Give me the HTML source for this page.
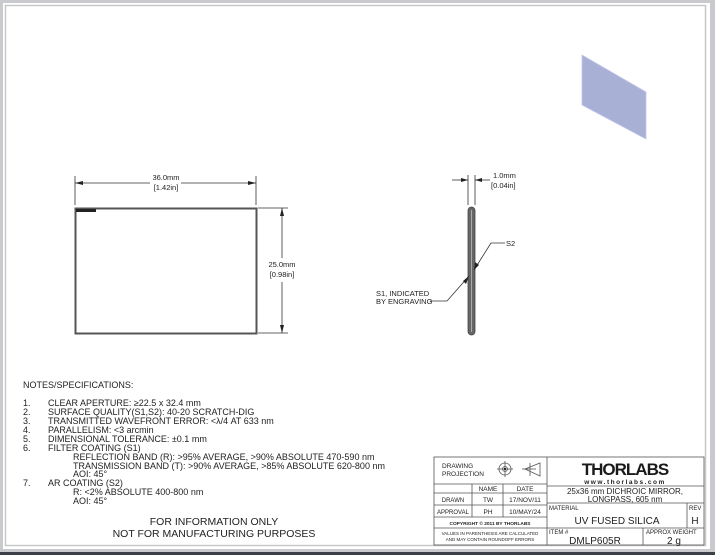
<!DOCTYPE html>
<html><head><meta charset="utf-8"><style>
html,body{margin:0;padding:0;width:715px;height:555px;overflow:hidden;background:#c9cace;}
svg{position:absolute;left:0;top:0}
text{font-family:"Liberation Sans",sans-serif;fill:#222}
</style></head><body>
<svg width="715" height="555" viewBox="0 0 715 555">
<rect x="0" y="0" width="715" height="555" fill="#c9cace"/>
<rect x="0" y="552" width="715" height="3" fill="#3a3f48"/>
<rect x="3" y="3" width="707" height="546" fill="#fff"/>
<rect x="5.5" y="5.5" width="700" height="540" fill="none" stroke="#c8c8c8" stroke-width="1.5"/>

<!-- 3D view -->
<polygon points="582,55 646,92 646,139 582,105" fill="#a9b0d6" stroke="#c4c8e8" stroke-width="0.8"/>

<!-- Front view -->
<rect x="75.5" y="208.5" width="181" height="125" fill="none" stroke="#555" stroke-width="2"/>
<rect x="76" y="209" width="20" height="3" fill="#222"/>
<g stroke="#333" stroke-width="0.8" fill="none">
<line x1="75" y1="176" x2="75" y2="205"/><line x1="256" y1="176" x2="256" y2="205"/>
<line x1="75" y1="183" x2="150" y2="183"/><line x1="181" y1="183" x2="256" y2="183"/>
<line x1="258" y1="208" x2="288" y2="208"/><line x1="258" y1="333" x2="288" y2="333"/>
<line x1="282" y1="208" x2="282" y2="258"/><line x1="282" y1="282" x2="282" y2="333"/>
</g>
<g fill="#222">
<polygon points="75,183 83,181 83,185"/><polygon points="256,183 248,181 248,185"/>
<polygon points="282,208 280,216 284,216"/><polygon points="282,333 280,325 284,325"/>
</g>
<text x="166" y="180" font-size="7.5" text-anchor="middle">36.0mm</text>
<text x="166" y="190" font-size="7.5" text-anchor="middle">[1.42in]</text>
<text x="282" y="267" font-size="7.5" text-anchor="middle">25.0mm</text>
<text x="282" y="277" font-size="7.5" text-anchor="middle">[0.98in]</text>

<!-- Side view -->
<rect x="468" y="207" width="7" height="128" rx="3.5" fill="#666" stroke="#444" stroke-width="0.8"/>
<line x1="471.5" y1="210" x2="471.5" y2="332" stroke="#aaa" stroke-width="1"/>
<g stroke="#333" stroke-width="0.8" fill="none">
<line x1="468" y1="175" x2="468" y2="205"/><line x1="475" y1="175" x2="475" y2="205"/>
<line x1="452" y1="180" x2="468" y2="180"/><line x1="475" y1="180" x2="490" y2="180"/>
<polyline points="505,243 491,243 474,270"/>
<polyline points="430,301 447,301 469,276"/>
</g>
<g fill="#222">
<polygon points="468,180 461,178 461,182"/><polygon points="475,180 482,178 482,182"/>
<polygon points="474,270 475,262 479,265"/><polygon points="469,276 463,281 466,284"/>
</g>
<text x="493" y="178" font-size="7.5">1.0mm</text>
<text x="491" y="188" font-size="7.5">[0.04in]</text>
<text x="506" y="246" font-size="7.5">S2</text>
<text x="376" y="296" font-size="7.5">S1, INDICATED</text>
<text x="376" y="304" font-size="7.5">BY ENGRAVING</text>

<!-- Notes -->
<g font-size="9">
<text x="23" y="388">NOTES/SPECIFICATIONS:</text>
<text x="23" y="406">1.</text><text x="48" y="406">CLEAR APERTURE: ≥22.5 x 32.4 mm</text>
<text x="23" y="415">2.</text><text x="48" y="415">SURFACE QUALITY(S1,S2): 40-20 SCRATCH-DIG</text>
<text x="23" y="424">3.</text><text x="48" y="424">TRANSMITTED WAVEFRONT ERROR: &lt;λ/4 AT 633 nm</text>
<text x="23" y="433">4.</text><text x="48" y="433">PARALLELISM: &lt;3 arcmin</text>
<text x="23" y="442">5.</text><text x="48" y="442">DIMENSIONAL TOLERANCE: ±0.1 mm</text>
<text x="23" y="451">6.</text><text x="48" y="451">FILTER COATING (S1)</text>
<text x="73" y="460">REFLECTION BAND (R): &gt;95% AVERAGE, &gt;90% ABSOLUTE 470-590 nm</text>
<text x="73" y="469">TRANSMISSION BAND (T): &gt;90% AVERAGE, &gt;85% ABSOLUTE 620-800 nm</text>
<text x="73" y="477">AOI: 45°</text>
<text x="23" y="486">7.</text><text x="48" y="486">AR COATING (S2)</text>
<text x="73" y="495">R: &lt;2% ABSOLUTE 400-800 nm</text>
<text x="73" y="504">AOI: 45°</text>
</g>
<text x="214" y="525" font-size="10.5" text-anchor="middle">FOR INFORMATION ONLY</text>
<text x="214" y="537" font-size="10.5" text-anchor="middle">NOT FOR MANUFACTURING PURPOSES</text>

<!-- Title block -->
<g stroke="#555" stroke-width="0.8" fill="none">
<rect x="434" y="457" width="270" height="88"/>
<line x1="547" y1="457" x2="547" y2="545"/>
<line x1="434" y1="484" x2="547" y2="484"/>
<line x1="434" y1="493" x2="547" y2="493"/>
<line x1="434" y1="505" x2="547" y2="505"/>
<line x1="434" y1="517" x2="547" y2="517"/>
<line x1="434" y1="528" x2="704" y2="528"/>
<line x1="472" y1="484" x2="472" y2="517"/>
<line x1="503" y1="484" x2="503" y2="517"/>
<line x1="547" y1="486" x2="704" y2="486"/>
<line x1="547" y1="503" x2="704" y2="503"/>
<line x1="687" y1="503" x2="687" y2="528"/>
<line x1="643" y1="528" x2="643" y2="545"/>
<circle cx="505" cy="469" r="6"/><circle cx="505" cy="469" r="2.5"/>
<line x1="497" y1="469" x2="513" y2="469"/><line x1="505" y1="461" x2="505" y2="477"/>
<polygon points="525,469 540,463 540,476"/>
<line x1="522" y1="469" x2="536" y2="469"/><line x1="530" y1="463" x2="530" y2="476"/>
</g>
<circle cx="505" cy="469" r="1.2" fill="#222"/>
<text x="442" y="468" font-size="6.5">DRAWING</text>
<text x="442" y="476" font-size="6.5">PROJECTION</text>
<text x="488" y="491" font-size="6.5" text-anchor="middle">NAME</text>
<text x="525" y="491" font-size="6.5" text-anchor="middle">DATE</text>
<text x="453" y="502" font-size="6" text-anchor="middle">DRAWN</text>
<text x="488" y="502" font-size="6.5" text-anchor="middle">TW</text>
<text x="525" y="502" font-size="6.5" text-anchor="middle">17/NOV/11</text>
<text x="453" y="514" font-size="6" text-anchor="middle">APPROVAL</text>
<text x="488" y="514" font-size="6.5" text-anchor="middle">PH</text>
<text x="525" y="514" font-size="6.5" text-anchor="middle">10/MAY/24</text>
<text x="490" y="525" font-size="4.8" font-weight="bold" text-anchor="middle">COPYRIGHT © 2011 BY THORLABS</text>
<text x="490" y="535" font-size="4.5" text-anchor="middle">VALUES IN PARENTHESIS ARE CALCULATED</text>
<text x="490" y="541" font-size="4.5" text-anchor="middle">AND MAY CONTAIN ROUNDOFF ERRORS</text>
<text x="625" y="475" font-size="17" font-weight="bold" text-anchor="middle" style="fill:#1a1a1a;letter-spacing:-1px">THORLABS</text>
<text x="625" y="484" font-size="6.5" font-weight="bold" text-anchor="middle" style="letter-spacing:1.5px">www.thorlabs.com</text>
<text x="625" y="494" font-size="8" text-anchor="middle">25x36 mm DICHROIC MIRROR,</text>
<text x="625" y="502" font-size="8" text-anchor="middle">LONGPASS, 605 nm</text>
<text x="549" y="510" font-size="6">MATERIAL</text>
<text x="617" y="524" font-size="10" text-anchor="middle">UV FUSED SILICA</text>
<text x="689" y="510" font-size="6">REV</text>
<text x="695" y="524" font-size="10" text-anchor="middle">H</text>
<text x="549" y="534" font-size="6">ITEM #</text>
<text x="595" y="544" font-size="10" text-anchor="middle">DMLP605R</text>
<text x="646" y="534" font-size="6">APPROX WEIGHT</text>
<text x="674" y="544" font-size="10" text-anchor="middle">2 g</text>
</svg>
</body></html>
